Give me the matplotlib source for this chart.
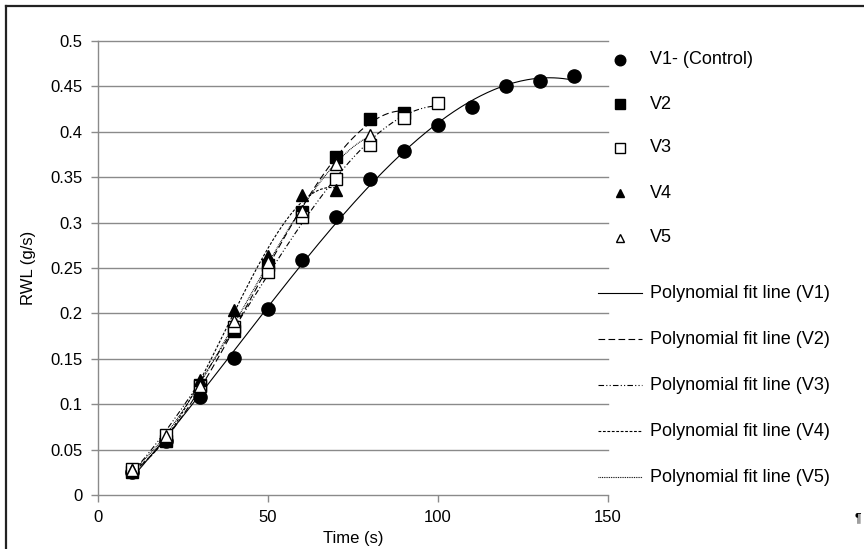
import matplotlib
matplotlib.use('Agg')
import matplotlib.pyplot as plt
import numpy as np
from matplotlib.lines import Line2D

plt.rcParams['font.family'] = ['Liberation Sans', 'DejaVu Sans']

# Time points (s) and RWL values (g/s)
t_v1 = [10, 20, 30, 40, 50, 60, 70, 80, 90, 100, 110, 120, 130, 140]
rwl_v1 = [0.025, 0.060, 0.108, 0.151, 0.205, 0.259, 0.306, 0.348, 0.379, 0.408, 0.427, 0.450, 0.456, 0.462]

t_v2 = [10, 20, 30, 40, 50, 60, 70, 80, 90]
rwl_v2 = [0.025, 0.060, 0.121, 0.181, 0.253, 0.312, 0.372, 0.414, 0.421]

t_v3 = [10, 20, 30, 40, 50, 60, 70, 80, 90, 100]
rwl_v3 = [0.029, 0.066, 0.120, 0.185, 0.246, 0.306, 0.348, 0.385, 0.415, 0.432]

t_v4 = [10, 20, 30, 40, 50, 60, 70]
rwl_v4 = [0.028, 0.062, 0.127, 0.204, 0.263, 0.330, 0.336]

t_v5 = [10, 20, 30, 40, 50, 60, 70, 80]
rwl_v5 = [0.028, 0.065, 0.120, 0.192, 0.257, 0.313, 0.365, 0.396]

series_labels = ['V1- (Control)', 'V2', 'V3', 'V4', 'V5']
fit_labels = ['Polynomial fit line (V1)', 'Polynomial fit line (V2)', 'Polynomial fit line (V3)',
              'Polynomial fit line (V4)', 'Polynomial fit line (V5)']
x_ticks = [0, 50, 100, 150]
y_ticks = [0, 0.05, 0.1, 0.15, 0.2, 0.25, 0.3, 0.35, 0.4, 0.45, 0.5]
y_tick_labels = ['0', '0.05', '0.1', '0.15', '0.2', '0.25', '0.3', '0.35', '0.4', '0.45', '0.5']

# marker styles: (marker, facecolor, size)
marker_styles = [('o', 'black', 9.5), ('s', 'black', 9), ('s', 'white', 9), ('^', 'black', 8), ('^', 'white', 8)]
line_styles = ['-', (0, (6, 3)), (0, (5, 2, 1, 2, 1, 2)), (0, (2.5, 1.5)), (0, (0.8, 0.8))]

W, H = 864, 549
fig = plt.figure(figsize=(W / 100, H / 100), dpi=100)
ax = fig.add_axes([98 / W, 1 - 495 / H, 510 / W, 454 / H])

grid_col = '#8a8a8a'
for y in y_ticks[1:]:
    ax.axhline(y, color=grid_col, linewidth=1.0, zorder=1, clip_on=False)

data = [(t_v1, rwl_v1), (t_v2, rwl_v2), (t_v3, rwl_v3), (t_v4, rwl_v4), (t_v5, rwl_v5)]

# polynomial trend lines
for (t, r), ls in zip(data, line_styles):
    coef = np.polyfit(t, r, 3)
    tt = np.linspace(min(t), max(t), 200)
    ax.plot(tt, np.polyval(coef, tt), color='black', linewidth=0.8, linestyle=ls, zorder=2)

for (t, r), (m, fc, ms) in zip(data, marker_styles):
    ax.plot(t, r, linestyle='none', marker=m, markersize=ms, markerfacecolor=fc,
            markeredgecolor='black', markeredgewidth=1.0, zorder=3)

ax.set_xlim(0, 150)
ax.set_ylim(0, 0.5)
ax.set_xticks(x_ticks)
ax.set_xticklabels([str(v) for v in x_ticks])
ax.set_yticks(y_ticks)
ax.set_yticklabels(y_tick_labels)
ax.tick_params(axis='both', direction='out', length=5, width=1.0, color=grid_col,
               labelsize=12, pad=6)
for s in ['top', 'right']:
    ax.spines[s].set_visible(False)
for s in ['left', 'bottom']:
    ax.spines[s].set_color(grid_col)
    ax.spines[s].set_linewidth(1.0)

ax.set_xlabel('Time (s)', fontsize=12, labelpad=4)
ax.set_ylabel('RWL (g/s)', fontsize=12, labelpad=10)

# legend drawn in figure pixels
def fx(px):
    return px / W

def fy(py):
    return 1 - py / H

marker_y = [60, 104, 148, 193, 238]
for lab, (m, fc, ms), py in zip(series_labels, marker_styles, marker_y):
    fig.add_artist(Line2D([fx(620)], [fy(py)], marker=m, markersize=ms * 0.8, markerfacecolor=fc,
                          markeredgecolor='black', markeredgewidth=1.0, linestyle='none'))
    fig.text(fx(650), fy(py), lab, fontsize=13, va='center', ha='left')

line_y = [293, 339, 385, 431, 477]
for lab, ls, py in zip(fit_labels, line_styles, line_y):
    fig.add_artist(Line2D([fx(598), fx(642)], [fy(py), fy(py)], color='black',
                          linewidth=0.8, linestyle=ls))
    fig.text(fx(650), fy(py), lab, fontsize=13, va='center', ha='left')

# outer frame (top and left edges visible)
fig.add_artist(Line2D([fx(6), 1], [fy(6), fy(6)], color='#222222', linewidth=1.6))
fig.add_artist(Line2D([fx(6), fx(6)], [fy(6), 0], color='#222222', linewidth=1.6))
fig.text(fx(858), fy(518), '\u00b6', fontsize=9, ha='center', va='center')

fig.savefig('out.png', dpi=100)
